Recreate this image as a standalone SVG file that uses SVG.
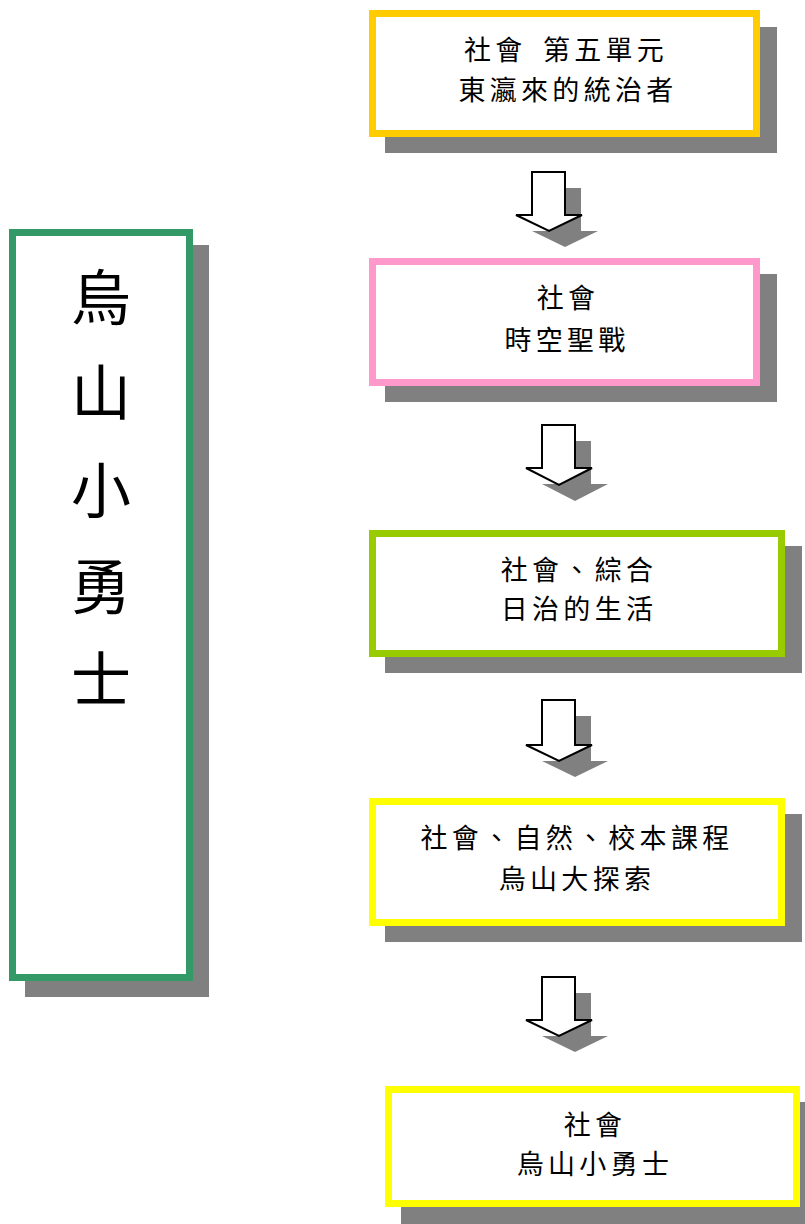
<svg xmlns="http://www.w3.org/2000/svg" width="805" height="1224" viewBox="0 0 805 1224">
<style>
.shadow{fill:#808080;stroke:none}
.box{fill:#ffffff;stroke-width:7}
.t{font-family:"Noto Sans CJK TC","Noto Sans CJK SC",sans-serif;font-size:27px;fill:#000;text-anchor:middle;letter-spacing:4.3px}
.big{font-family:"Noto Sans CJK TC","Noto Sans CJK SC",sans-serif;font-size:60px;fill:#000;text-anchor:middle}
.arrow{fill:#ffffff;stroke:#000;stroke-width:2;stroke-linejoin:miter}
</style>
<rect width="805" height="1224" fill="#ffffff"/>

<g id="title">
  <rect class="shadow" x="25" y="245" width="184" height="752"/>
  <rect class="box" x="12.5" y="232.5" width="177" height="745" stroke="#339966"/>
  <text class="big" x="101" y="320">烏</text>
  <text class="big" x="101" y="415">山</text>
  <text class="big" x="101" y="513">小</text>
  <text class="big" x="101" y="609">勇</text>
  <text class="big" x="101" y="702">士</text>
</g>

<g id="node1">
  <rect class="shadow" x="385" y="27" width="392" height="126"/>
  <rect class="box" x="372.5" y="13.5" width="384" height="120" stroke="#FFCC00"/>
  <text class="t" x="566" y="60">社會 <tspan dx="6">第五單元</tspan></text>
  <text class="t" x="568" y="100">東瀛來的統治者</text>
</g>

<g id="node2">
  <rect class="shadow" x="385" y="274" width="392" height="128"/>
  <rect class="box" x="372.5" y="261.5" width="384" height="121" stroke="#FF99CC"/>
  <text class="t" x="568" y="308">社會</text>
  <text class="t" x="567" y="350">時空聖戰</text>
</g>

<g id="node3">
  <rect class="shadow" x="385" y="546" width="417" height="127"/>
  <rect class="box" x="372.5" y="533.5" width="409" height="120" stroke="#99CC00"/>
  <text class="t" x="579" y="580">社會、綜合</text>
  <text class="t" x="579" y="619">日治的生活</text>
</g>

<g id="node4">
  <rect class="shadow" x="385" y="814" width="417" height="128"/>
  <rect class="box" x="372.5" y="801.5" width="409" height="121" stroke="#FFFF00"/>
  <text class="t" x="577" y="848">社會、自然、校本課程</text>
  <text class="t" x="577" y="889">烏山大探索</text>
</g>

<g id="node5">
  <rect class="shadow" x="401" y="1102" width="404" height="122"/>
  <rect class="box" x="388.5" y="1089.5" width="408" height="114" stroke="#FFFF00"/>
  <text class="t" x="595" y="1135">社會</text>
  <text class="t" x="595" y="1174">烏山小勇士</text>
</g>

<g id="connectors">
  <polygon class="shadow" points="548,188 581,188 581,231 598,231 565,247 532,231 548,231"/>
  <polygon class="arrow" points="532,172 565,172 565,215 582,215 549,231 516,215 532,215"/>

  <polygon class="shadow" points="558,441 591,441 591,484 608,484 575,501 542,484 558,484"/>
  <polygon class="arrow" points="542,425 575,425 575,468 592,468 559,485 526,468 542,468"/>

  <polygon class="shadow" points="558,716 591,716 591,761 608,761 575,777 542,761 558,761"/>
  <polygon class="arrow" points="542,700 575,700 575,745 592,745 559,761 526,745 542,745"/>

  <polygon class="shadow" points="558,993 591,993 591,1036 608,1036 575,1052 542,1036 558,1036"/>
  <polygon class="arrow" points="542,977 575,977 575,1020 592,1020 559,1036 526,1020 542,1020"/>
</g>
</svg>
